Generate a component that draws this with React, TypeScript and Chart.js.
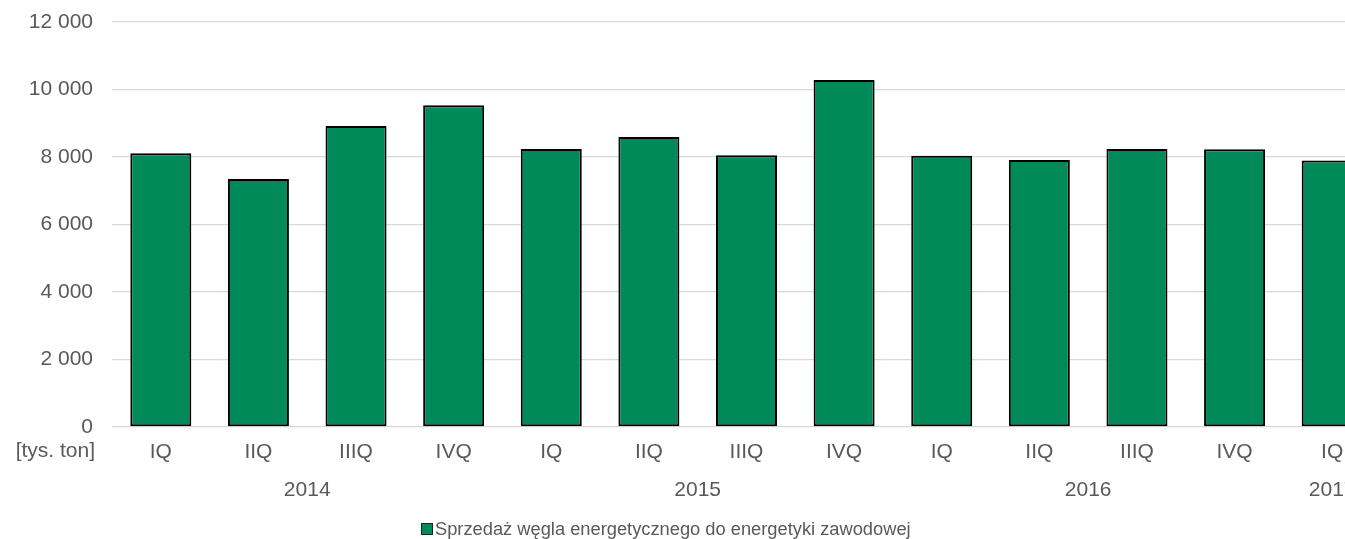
import React, { useEffect, useRef } from "react";
import { Chart, registerables } from "chart.js";

Chart.register(...registerables);

const quarters = ["IQ", "IIQ", "IIIQ", "IVQ", "IQ", "IIQ", "IIIQ", "IVQ", "IQ", "IIQ", "IIIQ", "IVQ", "IQ"];
const years = ["2014", "2015", "2016", "2017"];
const quartersPerYear = [4, 4, 4, 1];
const sales = [8110, 7350, 8920, 9530, 8240, 8590, 8050, 10280, 8040, 7910, 8240, 8230, 7900];
const yMin = 0;
const yMax = 12000;
const yStep = 2000;
const seriesLabel = "Sprzedaż węgla energetycznego do energetyki zawodowej";
const unitLabel = "[tys. ton]";

const FONT = "'Liberation Sans', Arial, sans-serif";
const TEXT = "#595959";
const GREEN = "#008A5A";
const TICK_SIZE = 21;

function yearCenters(): number[] {
  const out: number[] = [];
  let start = 0;
  for (const c of quartersPerYear) {
    out.push(start + (c - 1) / 2);
    start += c;
  }
  return out;
}

function fmt(v: number): string {
  const s = Math.round(v).toString();
  return s.replace(/\B(?=(\d{3})+(?!\d))/g, " ");
}

const axisTextPlugin = {
  id: "axisText",
  afterDraw(chart: any) {
    const xs = chart.scales.x;
    const ys = chart.scales.y;
    const ctx = chart.ctx;
    ctx.save();
    ctx.font = `${TICK_SIZE}px ${FONT}`;
    ctx.fillStyle = TEXT;
    ctx.textBaseline = "middle";
    const rowY = xs.top + xs.options.ticks.padding + (TICK_SIZE * 1.2) / 2 - 0.5;
    ctx.textAlign = "right";
    ctx.fillText(unitLabel, ys.right - ys.options.ticks.padding + 2, rowY);
    ctx.textAlign = "center";
    const yearY = rowY + 39;
    yearCenters().forEach((c, i) => {
      ctx.fillText(years[i], xs.getPixelForValue(c), yearY);
    });
    ctx.restore();
  },
};

export default function App() {
  const ref = useRef<HTMLCanvasElement | null>(null);

  useEffect(() => {
    if (!ref.current) return;
    const chart = new Chart(ref.current, {
      type: "bar",
      data: {
        labels: quarters,
        datasets: [
          {
            label: seriesLabel,
            data: sales,
            backgroundColor: GREEN,
            borderColor: "#000000",
            borderWidth: 2,
            borderSkipped: false,
            barPercentage: 0.625,
            categoryPercentage: 1,
          },
        ],
      },
      options: {
        responsive: false,
        animation: false,
        layout: { padding: { top: 22, left: 0, right: 0, bottom: 0 } },
        plugins: { legend: { display: false }, tooltip: { enabled: false } },
        scales: {
          y: {
            min: yMin,
            max: yMax,
            afterFit: (s: any) => {
              s.width = 112;
              s.paddingTop = 0;
              s.paddingBottom = 0;
            },
            ticks: {
              stepSize: yStep,
              padding: 19,
              color: TEXT,
              font: { family: FONT, size: TICK_SIZE },
              callback: (v: any) => fmt(Number(v)),
            },
            grid: { color: "#d9d9d9", lineWidth: 1.3, drawTicks: false },
            border: { display: false },
          },
          x: {
            type: "category",
            afterFit: (s: any) => {
              s.height = 112;
            },
            grid: { display: false, drawTicks: false },
            border: { display: false },
            ticks: {
              padding: 12.5,
              color: TEXT,
              maxRotation: 0,
              autoSkip: false,
              font: { family: FONT, size: TICK_SIZE },
            },
          },
        },
      },
      plugins: [axisTextPlugin],
    });
    return () => chart.destroy();
  }, []);

  return (
    <div style={{ position: "fixed", left: 0, top: 0, width: 1345, height: 539, overflow: "hidden", background: "#fff" }}>
      <canvas ref={ref} width={1381} height={539} style={{ display: "block" }} />
      <div
        style={{
          position: "absolute",
          left: 421,
          top: 520,
          display: "flex",
          alignItems: "center",
          fontFamily: FONT,
          fontSize: 18.3,
          lineHeight: "18px",
          color: TEXT,
          whiteSpace: "nowrap",
        }}
      >
        <span
          style={{
            display: "inline-block",
            width: 10,
            height: 10,
            background: GREEN,
            border: "1px solid #222",
            marginRight: 2,
          }}
        />
        <span>{seriesLabel}</span>
      </div>
    </div>
  );
}
